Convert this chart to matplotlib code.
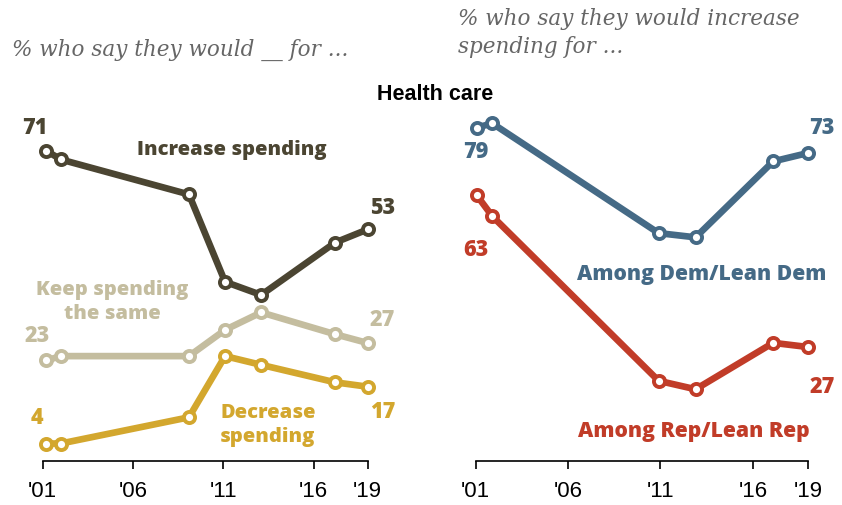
import matplotlib.pyplot as plt

# survey waves (fractional year so the first two waves don't sit on top of each other)
years_all = [2001.2, 2002.0, 2009.1, 2011.1, 2013.1, 2017.2, 2019.0]
increase = [71, 69, 61, 41, 38, 50, 53]
keep_same = [23, 24, 24, 30, 34, 29, 27]
decrease = [4, 4, 10, 24, 22, 18, 17]

years_party = [2001.05, 2001.9, 2010.9, 2012.9, 2017.1, 2019.0]
dem = [79, 80, 54, 53, 71, 73]
rep = [63, 58, 19, 17, 28, 27]

tick_years = [2001, 2006, 2011, 2016, 2019]
tick_labels = ["'01", "'06", "'11", "'16", "'19"]

c_inc = '#4b4532'
c_keep = '#c4bd9f'
c_dec = '#d3a72e'
c_dem = '#456a86'
c_rep = '#c13c28'

W, H = 842, 506
fig = plt.figure(figsize=(W / 100, H / 100), dpi=100)

bold = dict(family=['Open Sans', 'DejaVu Sans'], weight=800, fontsize=14.5)
num = dict(bold, fontsize=15.5)


def px_axes(x_left, x_right, y_top, y_bottom):
    return fig.add_axes([x_left / W, 1 - y_bottom / H,
                         (x_right - x_left) / W, (y_bottom - y_top) / H])


def style(ax, top_val):
    ax.set_xlim(2001, 2019)
    ax.set_ylim(0, top_val)
    for s in ['top', 'left', 'right']:
        ax.spines[s].set_visible(False)
    ax.spines['bottom'].set_linewidth(1.2)
    ax.set_yticks([])
    ax.set_xticks(tick_years)
    ax.set_xticklabels(tick_labels, family='Liberation Sans', fontsize=16)
    ax.tick_params(axis='x', length=6, width=1.2, pad=8, direction='out')
    ax.patch.set_alpha(0)


def series(ax, x, y, color):
    ax.plot(x, y, color=color, lw=4.8, marker='o', ms=8, mew=2.8,
            mfc='white', mec=color, clip_on=False, solid_capstyle='round')


# left panel: increase / keep / decrease
ax1 = px_axes(42.7, 367.7, 100, 462)
style(ax1, 362 / 4.37)
series(ax1, years_all, keep_same, c_keep)
series(ax1, years_all, decrease, c_dec)
series(ax1, years_all, increase, c_inc)

ax1.text(2000.57, 76.4, '71', color=c_inc, ha='center', va='center', **num)
ax1.text(2011.5, 71.4, 'Increase spending', color=c_inc, ha='center', va='center', **bold)
ax1.text(2019.84, 58.1, '53', color=c_inc, ha='center', va='center', **num)
ax1.text(2004.85, 36.6, 'Keep spending\nthe same', color=c_keep, ha='center',
         va='center', linespacing=1.25, **bold)
ax1.text(2000.68, 28.8, '23', color=c_keep, ha='center', va='center', **num)
ax1.text(2019.8, 32.5, '27', color=c_keep, ha='center', va='center', **num)
ax1.text(2000.68, 10.1, '4', color=c_dec, ha='center', va='center', **num)
ax1.text(2010.83, 8.5, 'Decrease\nspending', color=c_dec, ha='left',
         va='center', linespacing=1.25, **bold)
ax1.text(2019.84, 11.4, '17', color=c_dec, ha='center', va='center', **num)

# right panel: by party
ax2 = px_axes(475.7, 808.3, 100, 462)
style(ax2, 362 / 4.22)
series(ax2, years_party, dem, c_dem)
series(ax2, years_party, rep, c_rep)

ax2.text(2001.0, 73.5, '79', color=c_dem, ha='center', va='center', **num)
ax2.text(2019.75, 79.1, '73', color=c_dem, ha='center', va='center', **num)
ax2.text(2013.25, 44.5, 'Among Dem/Lean Dem', color=c_dem, ha='center', va='center',
         family=['Open Sans', 'DejaVu Sans'], weight=800, fontsize=15.2)
ax2.text(2001.0, 50.2, '63', color=c_rep, ha='center', va='center', **num)
ax2.text(2019.75, 17.8, '27', color=c_rep, ha='center', va='center', **num)
ax2.text(2012.8, 7.3, 'Among Rep/Lean Rep', color=c_rep, ha='center', va='center',
         family=['Open Sans', 'DejaVu Sans'], weight=800, fontsize=15.2)

# headings
fig.text(435 / W, 1 - 95 / H, 'Health care', ha='center', va='center',
         family='Liberation Sans', weight='bold', fontsize=15.5, color='black')
sub = dict(family='DejaVu Serif', style='italic', fontsize=15.5, color='#666666')
fig.text(12 / W, 1 - 50 / H, '% who say they would __ for ...', ha='left', va='center', **sub)
fig.text(457.7 / W, 1 - 33 / H, '% who say they would increase\nspending for ...',
         ha='left', va='center', linespacing=1.4, **sub)

fig.savefig('out.png', dpi=100)
